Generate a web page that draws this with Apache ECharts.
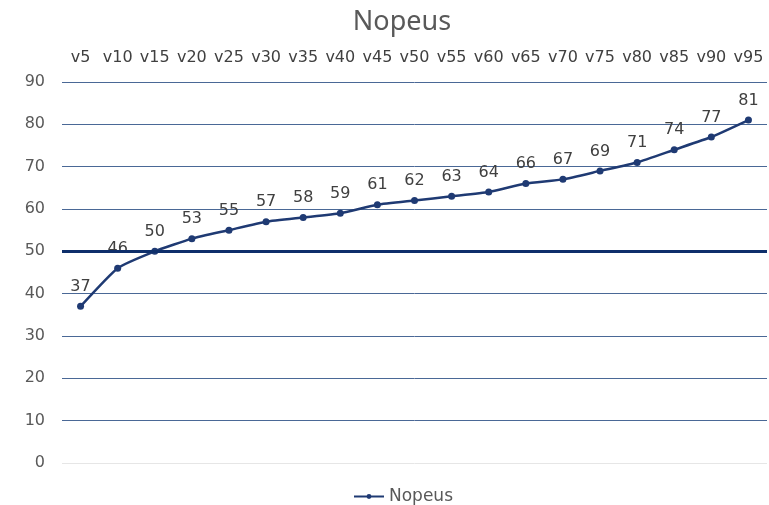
<!DOCTYPE html>
<html><head><meta charset="utf-8">
<script src="https://cdn.jsdelivr.net/npm/echarts@6/dist/echarts.min.js"></script>
<style>html,body{margin:0;padding:0;background:#fff}#c{width:769px;height:505px}</style>
</head><body><div id="c"></div>
<script>
const categories = ['v5','v10','v15','v20','v25','v30','v35','v40','v45','v50','v55','v60','v65','v70','v75','v80','v85','v90','v95'];
const values = [37,46,50,53,55,57,58,59,61,62,63,64,66,67,69,71,74,77,81];
const seriesName = 'Nopeus';
const titleText = 'Nopeus';
const refValue = 50;

const font = 'DejaVu Sans';
const chart = echarts.init(document.getElementById('c'));
chart.setOption({
  animation: false,
  title: { text: titleText, left: 397, textAlign: 'center', top: 4,
    textStyle: { fontFamily: 'Noto Sans', fontSize: 27, fontWeight: 'normal', color: '#595959' } },
  legend: { top: 483, left: 348, itemWidth: 30, itemHeight: 6,
    textStyle: { fontFamily: font, fontSize: 17, color: '#595959' }, itemGap: 2 },
  grid: { left: 62, right: 2, top: 82, bottom: 42 },
  xAxis: { type: 'category', data: categories, position: 'top', boundaryGap: true,
    axisLine: { show: false }, axisTick: { show: false },
    axisLabel: { fontFamily: font, fontSize: 16, color: '#404040', margin: 16, interval: 0 } },
  yAxis: { type: 'value', min: 0, max: 90, interval: 10,
    axisLine: { show: false }, axisTick: { show: false },
    axisLabel: { fontFamily: font, fontSize: 16, color: '#595959', margin: 17 },
    splitLine: { lineStyle: { color: ['#e6e6e6','#4a6896','#4a6896','#4a6896','#4a6896','#4a6896','#4a6896','#4a6896','#4a6896','#4a6896'], width: 1 } } },
  series: [{
    name: seriesName, type: 'line', data: values, smooth: 0.15,
    symbol: 'circle', symbolSize: 7,
    lineStyle: { color: '#1f3a73', width: 2.5 }, itemStyle: { color: '#1f3a73' },
    label: { show: true, position: 'top', distance: 8, fontFamily: font, fontSize: 16, color: '#404040' },
    markLine: { silent: true, symbol: 'none', label: { show: false },
      lineStyle: { color: '#0e2f6b', width: 3, type: 'solid' },
      data: [{ yAxis: refValue }] }
  }]
});
</script></body></html>
